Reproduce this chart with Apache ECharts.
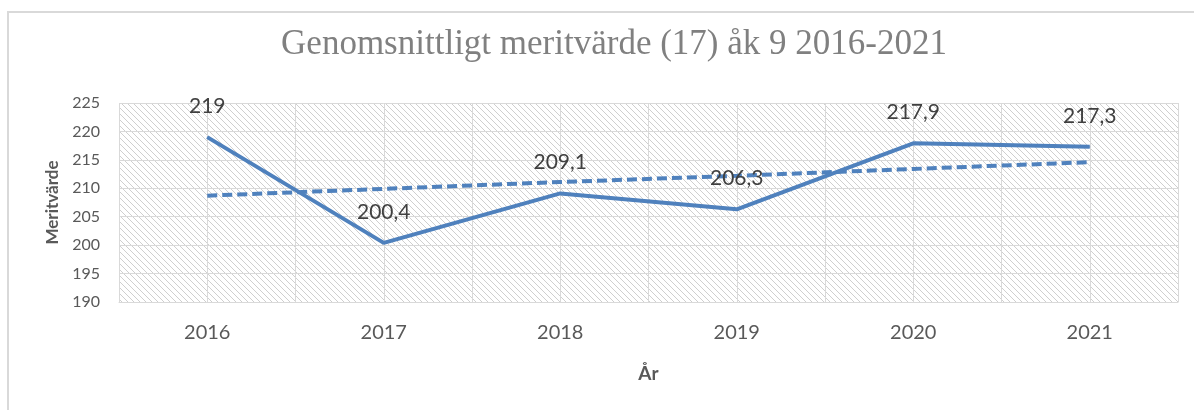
<!DOCTYPE html>
<html>
<head>
<meta charset="utf-8">
<title>Genomsnittligt meritvärde</title>
<script src="https://cdn.jsdelivr.net/npm/echarts@6/dist/echarts.min.js"></script>
<style>
    html, body { margin: 0; padding: 0; background: #fff; }
    #chart { width: 1194px; height: 410px; }
</style>
</head>
<body>
<div id="chart"></div>
<script>
    // data
    var years = ['2016', '2017', '2018', '2019', '2020', '2021'];
    var meritValues = [219, 200.4, 209.1, 206.3, 217.9, 217.3];
    // linear trendline (dashed)
    var trendValues = [208.7, 209.9, 211.1, 212.2, 213.4, 214.6];
    var halfSteps = ['', '', '', '', '', '', '', '', '', '', '', ''];

    var blue = '#4f81bd';
    var textFont = 'Lato';

    // diagonal hatch for the plot area
    var tile = document.createElement('canvas');
    tile.width = 6;
    tile.height = 6;
    var ctx = tile.getContext('2d');
    ctx.fillStyle = '#ffffff';
    ctx.fillRect(0, 0, 6, 6);
    ctx.strokeStyle = '#cfcfcf';
    ctx.lineWidth = 1;
    ctx.beginPath();
    ctx.moveTo(-1, -1); ctx.lineTo(7, 7);
    ctx.moveTo(-1, 5); ctx.lineTo(1, 7);
    ctx.moveTo(5, -1); ctx.lineTo(7, 1);
    ctx.stroke();

    var myChart = echarts.init(document.getElementById('chart'));

    var option = {
        backgroundColor: '#ffffff',
        animation: false,
        title: {
            text: 'Genomsnittligt meritvärde (17) åk 9 2016-2021',
            left: 609,
            textAlign: 'center',
            top: 22,
            textStyle: {
                fontFamily: 'Liberation Serif',
                fontWeight: 'normal',
                fontSize: 35,
                color: '#808080'
            }
        },
        graphic: [{
            type: 'rect',
            shape: { x: 8, y: 12, width: 1200, height: 420 },
            style: { fill: 'none', stroke: '#d9d9d9', lineWidth: 2 },
            silent: true
        }],
        grid: {
            left: 119,
            right: 16,
            top: 103,
            bottom: 108,
            show: true,
            borderWidth: 0,
            backgroundColor: { image: tile, repeat: 'repeat' }
        },
        xAxis: [{
            type: 'category',
            data: years,
            boundaryGap: true,
            name: 'År',
            nameLocation: 'middle',
            nameGap: 62,
            nameTextStyle: {
                fontFamily: textFont,
                fontWeight: 'bold',
                fontSize: 19,
                color: '#595959'
            },
            axisLine: { show: true, lineStyle: { color: '#d9d9d9', width: 1 } },
            axisTick: { show: false },
            splitLine: { show: false },
            axisLabel: {
                margin: 21,
                fontFamily: textFont,
                fontSize: 20,
                color: '#595959'
            }
        }, {
            type: 'category',
            data: halfSteps,
            position: 'bottom',
            boundaryGap: true,
            axisLine: { show: false },
            axisTick: { show: false },
            axisLabel: { show: false },
            splitLine: { show: true, lineStyle: { color: '#d9d9d9', width: 1 } }
        }],
        yAxis: {
            type: 'value',
            min: 190,
            max: 225,
            interval: 5,
            name: 'Meritvärde',
            nameLocation: 'middle',
            nameGap: 57,
            nameTextStyle: {
                fontFamily: textFont,
                fontWeight: 'bold',
                fontSize: 17,
                color: '#595959'
            },
            axisLine: { show: false },
            axisTick: { show: false },
            splitLine: { show: true, lineStyle: { color: '#d9d9d9', width: 1 } },
            axisLabel: {
                margin: 19,
                fontFamily: textFont,
                fontSize: 16,
                color: '#595959'
            }
        },
        series: [{
            name: 'Meritvärde',
            type: 'line',
            data: meritValues,
            xAxisIndex: 0,
            symbol: 'circle',
            symbolSize: 1,
            showSymbol: true,
            itemStyle: { color: blue },
            lineStyle: { color: blue, width: 4 },
            z: 3,
            label: {
                show: true,
                position: 'top',
                distance: 20,
                fontFamily: textFont,
                fontSize: 21,
                color: '#404040',
                formatter: function (p) {
                    return String(p.value).replace('.', ',');
                }
            }
        }, {
            name: 'Trend',
            type: 'line',
            data: trendValues,
            xAxisIndex: 0,
            symbol: 'none',
            lineStyle: { color: blue, width: 4, type: [10, 5] },
            z: 2
        }]
    };

    myChart.setOption(option);
</script>
</body>
</html>
